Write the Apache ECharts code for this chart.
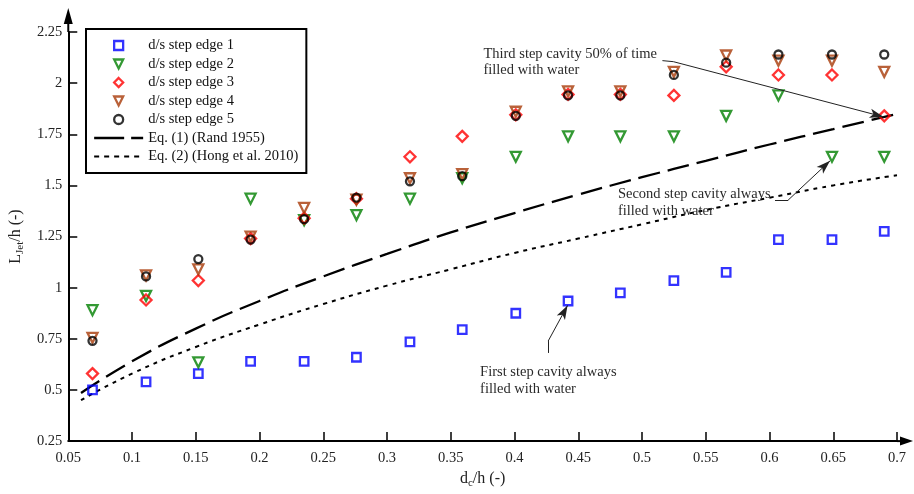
<!DOCTYPE html>
<html><head><meta charset="utf-8">
<script src="https://cdn.jsdelivr.net/npm/echarts@6/dist/echarts.min.js"></script>
<style>html,body{margin:0;padding:0;background:#fff}#c{width:914px;height:494px}</style>
</head><body><div id="c"></div>
<script>
// ---- data ----
const dcH   = [0.069, 0.111, 0.152, 0.193, 0.235, 0.276, 0.318, 0.359, 0.401, 0.442, 0.483, 0.525, 0.566, 0.607, 0.649, 0.690];
const edge1 = [0.50, 0.54, 0.58, 0.64, 0.64, 0.66, 0.735, 0.795, 0.875, 0.935, 0.975, 1.035, 1.075, 1.235, 1.235, 1.275];
const edge2 = [0.89, 0.96, 0.635, 1.435, 1.33, 1.355, 1.435, 1.535, 1.64, 1.74, 1.74, 1.74, 1.84, 1.94, 1.64, 1.64];
const edge3 = [0.58, 0.94, 1.035, 1.24, 1.34, 1.435, 1.64, 1.74, 1.845, 1.945, 1.945, 1.94, 2.08, 2.04, 2.04, 1.84];
const edge4 = [0.755, 1.06, 1.09, 1.25, 1.39, 1.43, 1.535, 1.555, 1.86, 1.96, 1.96, 2.055, 2.135, 2.11, 2.11, 2.055];
const edge5 = [0.74, 1.055, 1.14, 1.235, 1.335, 1.44, 1.52, 1.545, 1.84, 1.94, 1.94, 2.04, 2.10, 2.14, 2.14, 2.14];
const eqX   = [0.06, 0.10, 0.15, 0.20, 0.25, 0.30, 0.35, 0.40, 0.45, 0.50, 0.55, 0.60, 0.65, 0.70];
const eq1   = [0.485, 0.64, 0.80, 0.935, 1.055, 1.165, 1.27, 1.365, 1.455, 1.54, 1.62, 1.70, 1.775, 1.85];
const eq2   = [0.45, 0.58, 0.71, 0.82, 0.92, 1.01, 1.09, 1.17, 1.24, 1.31, 1.38, 1.44, 1.50, 1.55];
const seriesNames = ['d/s step edge 1','d/s step edge 2','d/s step edge 3','d/s step edge 4','d/s step edge 5','Eq. (1) (Rand 1955)','Eq. (2) (Hong et al. 2010)'];
const xRange = [0.05, 0.7, 0.05];
const yRange = [0.25, 2.25, 0.25];
const notes = [
  {lines:['Third step cavity 50% of time','filled with water'], at:[0.3756, 2.182]},
  {lines:['Second step cavity always','filled with water'], at:[0.4811, 1.496]},
  {lines:['First step cavity always','filled with water'], at:[0.3730, 0.627]}
];
const leaders = [
  {pts:[[0.5160, 2.110],[0.5246, 2.105],[0.6895, 1.835]]},
  {pts:[[0.6043, 1.428],[0.6146, 1.428],[0.6475, 1.620]]},
  {pts:[[0.4264, 0.681],[0.4264, 0.739],[0.4416, 0.913]]}
];
// ---------------------------------------
const FONT = 'Liberation Serif';
const FS = 14.5;
const chart = echarts.init(document.getElementById('c'));
const pair = (xs, ys) => xs.map((x, i) => [x, ys[i]]);
const fmt = v => String(parseFloat(v.toFixed(2)));

const markerDefs = [
  {data: edge1, symbol: 'rect', size: 8.5, rot: 0, color: '#0000ff', icon: 'path://M0,0L10,0L10,10L0,10Z'},
  {data: edge2, symbol: 'triangle', size: 10, rot: 180, color: '#008000', icon: 'path://M0,0L10,0L5,10Z'},
  {data: edge3, symbol: 'diamond', size: 11, rot: 0, color: '#ff0000', icon: 'path://M5,0L10,5L5,10L0,5Z'},
  {data: edge4, symbol: 'triangle', size: 10, rot: 180, color: '#a83a08', icon: 'path://M0,0L10,0L5,10Z'},
  {data: edge5, symbol: 'circle', size: 8, rot: 0, color: '#000000', icon: 'path://M0,5A5,5,0,1,0,10,5A5,5,0,1,0,0,5Z'}
];
const series = markerDefs.map((d, i) => ({
  name: seriesNames[i], type: 'scatter', z: 3,
  data: pair(dcH, d.data), symbol: d.symbol, symbolSize: d.size, symbolRotate: d.rot,
  itemStyle: {color: 'rgba(255,255,255,0)', borderColor: d.color, borderWidth: 2.3},
  emphasis: {disabled: true}
}));

const markData = [];
leaders.forEach(l => {
  for (let i = 0; i < l.pts.length - 1; i++) {
    const last = i === l.pts.length - 2;
    markData.push([
      {coord: l.pts[i], symbol: 'none'},
      {coord: l.pts[i + 1], symbol: last ? 'arrow' : 'none', symbolSize: [7, 14]}
    ]);
  }
});

series.push({
  name: seriesNames[5], type: 'line', z: 2, data: pair(eqX, eq1), showSymbol: false,
  smooth: true, lineStyle: {color: '#000', width: 2.3, type: [22, 8]}, color: '#000',
  emphasis: {disabled: true}
});
series.push({
  name: seriesNames[6], type: 'line', z: 2, data: pair(eqX, eq2), showSymbol: false,
  smooth: true, lineStyle: {color: '#000', width: 2, type: [4, 5]}, color: '#000',
  emphasis: {disabled: true},
  markLine: {
    silent: true, animation: false, symbol: ['none', 'arrow'],
    lineStyle: {color: '#222', width: 1, type: 'solid'},
    label: {show: false}, emphasis: {disabled: true},
    data: markData
  }
});

const legendData = seriesNames.map((n, i) => i < 5
  ? {name: n, icon: markerDefs[i].icon, itemStyle: {color: 'rgba(255,255,255,0)', borderColor: markerDefs[i].color, borderWidth: 2.3}}
  : {name: n, itemStyle: {color: 'rgba(0,0,0,0)', borderColor: 'rgba(0,0,0,0)', borderWidth: 0, opacity: 0},
     lineStyle: i === 5 ? {color: '#000', width: 2.3, type: [30, 7]} : {color: '#000', width: 2, type: [5, 5]}});

const axisCommon = {
  type: 'value',
  splitLine: {show: false},
  axisLine: {show: true, lineStyle: {color: '#000', width: 2}},
  axisTick: {show: true, inside: true, length: 9, lineStyle: {color: '#000', width: 1.5}},
  axisLabel: {fontFamily: FONT, fontSize: FS, color: '#222', formatter: fmt}
};
const richName = {
  a: {fontFamily: FONT, fontSize: 16, color: '#222', lineHeight: 20},
  s: {fontFamily: FONT, fontSize: 11, color: '#222', lineHeight: 11, verticalAlign: 'bottom'}
};

chart.setOption({
  animation: false,
  backgroundColor: '#fff',
  grid: {left: 67, right: 17, top: 32, bottom: 49},
  xAxis: Object.assign({}, axisCommon, {
    min: xRange[0], max: xRange[1], interval: xRange[2],
    axisLabel: Object.assign({}, axisCommon.axisLabel, {margin: 10}),
    name: '{a|d}{s|c}{a|/h (-)}', nameLocation: 'middle', nameGap: 27,
    nameTextStyle: {rich: richName}
  }),
  yAxis: Object.assign({}, axisCommon, {
    min: yRange[0], max: yRange[1], interval: yRange[2],
    axisLabel: Object.assign({}, axisCommon.axisLabel, {margin: 6}),
    name: '{a|L}{s|Jet}{a|/h (-)}', nameLocation: 'middle', nameGap: 42, nameRotate: 90,
    nameTextStyle: {rich: richName}
  }),
  legend: {
    orient: 'vertical', left: 86, top: 29, padding: [9, 8, 9, 7],
    itemWidth: 49, itemHeight: 9, itemGap: 3.5, symbolKeepAspect: true, symbolRotate: 0,
    borderColor: '#000', borderWidth: 2, selectedMode: false,
    textStyle: {fontFamily: FONT, fontSize: FS, color: '#111', lineHeight: 14},
    data: legendData
  },
  series: series
});

// axis arrow extensions and annotation text, positioned via the chart's own scales
const p0 = chart.convertToPixel({gridIndex: 0}, [xRange[0], yRange[0]]);
const pxMax = chart.convertToPixel({gridIndex: 0}, [xRange[1], yRange[0]]);
const pyMax = chart.convertToPixel({gridIndex: 0}, [xRange[0], yRange[1]]);
const graphics = [
  {type: 'line', shape: {x1: pxMax[0], y1: p0[1], x2: pxMax[0] + 6, y2: p0[1]}, style: {stroke: '#000', lineWidth: 2}},
  {type: 'polygon', shape: {points: [[pxMax[0] + 3, p0[1] - 4.5], [pxMax[0] + 16, p0[1]], [pxMax[0] + 3, p0[1] + 4.5]]}, style: {fill: '#000'}},
  {type: 'line', shape: {x1: p0[0], y1: pyMax[1], x2: p0[0], y2: pyMax[1] - 10}, style: {stroke: '#000', lineWidth: 2}},
  {type: 'polygon', shape: {points: [[p0[0] - 4.5, pyMax[1] - 8], [p0[0], pyMax[1] - 24], [p0[0] + 4.5, pyMax[1] - 8]]}, style: {fill: '#000'}}
];
notes.forEach(n => {
  const p = chart.convertToPixel({gridIndex: 0}, n.at);
  graphics.push({
    type: 'text', x: p[0], y: p[1], z: 10,
    style: {text: n.lines.join('\n'), font: FS + 'px "' + FONT + '"', fill: '#2a2a2a', lineHeight: 16.5, textVerticalAlign: 'top', textAlign: 'left'}
  });
});
chart.setOption({graphic: graphics});
</script></body></html>
